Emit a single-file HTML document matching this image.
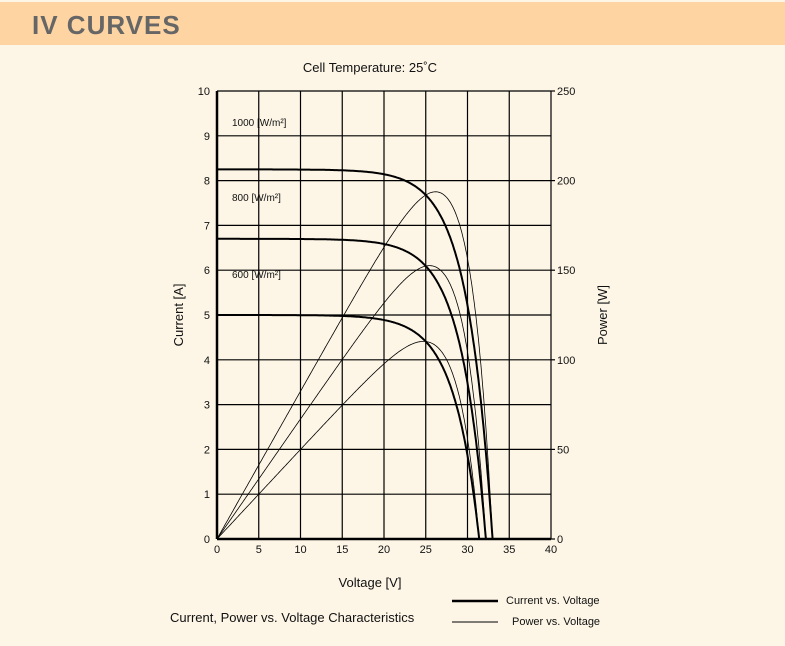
<!DOCTYPE html>
<html><head><meta charset="utf-8"><style>
body{margin:0;width:785px;height:646px;background:#fdf6e7;font-family:"Liberation Sans",sans-serif;overflow:hidden;position:relative}
.hd{position:absolute;left:0;top:2px;width:785px;height:43px;background:#fdd4a2}
.hd span{position:absolute;left:32px;top:8px;font-size:26px;font-weight:bold;color:#666;letter-spacing:1px}
svg{position:absolute;left:0;top:0}
text{font-family:"Liberation Sans",sans-serif;fill:#111}
</style></head><body>
<div class="hd"><span>IV CURVES</span></div>
<svg width="785" height="646" id="s">
<text x="370" y="72" font-size="13" text-anchor="middle">Cell Temperature:  25˚C</text>
<g id="grid" stroke="#000" stroke-width="1.2"></g>
<g id="lab" font-size="11"></g>
<text x="232" y="126" font-size="10">1000 [W/m²]</text>
<text x="232" y="201" font-size="10">800 [W/m²]</text>
<text x="232" y="278" font-size="10">600 [W/m²]</text>
<text transform="translate(183,315) rotate(-90)" font-size="13" text-anchor="middle">Current [A]</text>
<text transform="translate(607,315) rotate(-90)" font-size="13" text-anchor="middle">Power [W]</text>
<text x="370" y="587" font-size="13" text-anchor="middle">Voltage [V]</text>
<text x="170" y="622" font-size="13">Current, Power vs. Voltage Characteristics</text>
<line x1="452" y1="601" x2="498" y2="601" stroke="#000" stroke-width="2.5"/>
<line x1="452" y1="622" x2="498" y2="622" stroke="#000" stroke-width="1"/>
<text x="506" y="604" font-size="11">Current vs. Voltage</text>
<text x="512" y="625" font-size="11">Power vs. Voltage</text>
<g id="cur" fill="none" stroke="#000" stroke-width="2"></g>
<g id="pow" fill="none" stroke="#000" stroke-width="0.8"></g>
</svg>
<script>
var NS="http://www.w3.org/2000/svg";
function X(v){return 217+v*8.35}function Y(a){return 539-a*44.8}
function el(p,t,a,tx){var e=document.createElementNS(NS,t);for(var k in a)e.setAttribute(k,a[k]);if(tx!=null)e.textContent=tx;document.getElementById(p).appendChild(e);return e}
for(var i=0;i<=8;i++){var x=X(i*5);el("grid","line",{x1:x,y1:91,x2:x,y2:539});el("lab","text",{x:x,y:553,"text-anchor":"middle"},i*5)}
for(var j=0;j<=10;j++){var y=Y(j);el("grid","line",{x1:217,y1:y,x2:551,y2:y});el("lab","text",{x:210,y:y+4,"text-anchor":"end"},j)}
for(var k=0;k<=5;k++){var y=Y(k*2);el("grid","line",{x1:551,y1:y,x2:555,y2:y});el("lab","text",{x:557,y:y+4},k*50)}
el("grid","line",{x1:217,y1:91,x2:217,y2:539,"stroke-width":2.5});
el("grid","line",{x1:217,y1:539,x2:551,y2:539,"stroke-width":2.5});
var C=[[8.25,33.0,3.0],[6.7,32.2,3.0],[5.0,31.4,3.0]];
C.forEach(function(c){var d="",p="";for(var v=0;v<=c[1]+0.001;v+=0.1){var I=c[0]*(1-Math.exp((v-c[1])/c[2]))/(1-Math.exp(-c[1]/c[2]));if(I<0)I=0;d+=(d?"L":"M")+X(v).toFixed(1)+","+Y(I).toFixed(1);p+=(p?"L":"M")+X(v).toFixed(1)+","+Y(v*I/25).toFixed(1)}
el("cur","path",{d:d});el("pow","path",{d:p})});
</script>
</body></html>
